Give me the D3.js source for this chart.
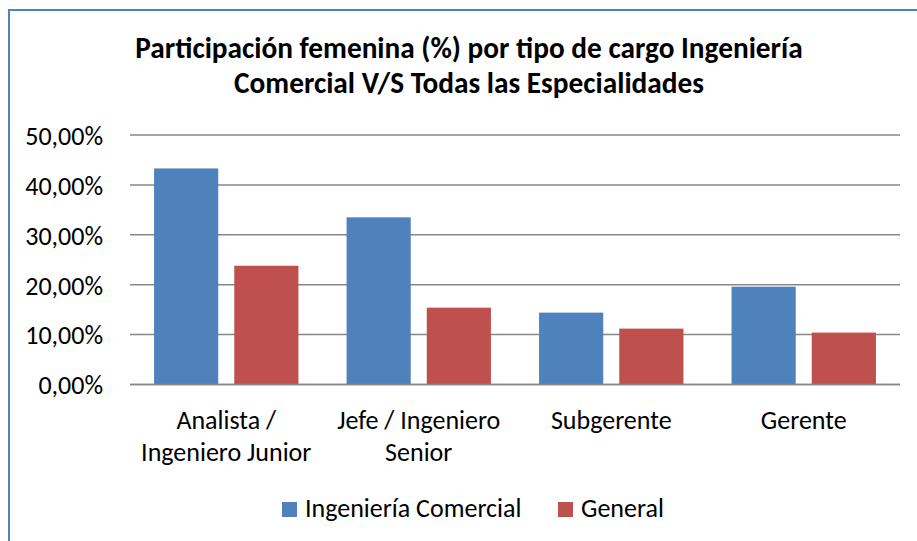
<!DOCTYPE html>
<html>
<head>
<meta charset="utf-8">
<script src="https://cdn.jsdelivr.net/npm/d3@7"></script>
<style>
  body { margin: 0; background: #fff; }
  svg { display: block; font-family: Carlito, Calibri, Lato, sans-serif; }
</style>
</head>
<body>
<div id="chart"></div>
<script>
// data
var categories = ['Analista / Ingeniero Junior', 'Jefe / Ingeniero Senior', 'Subgerente', 'Gerente']
var categoryLines = [['Analista /', 'Ingeniero Junior'], ['Jefe / Ingeniero', 'Senior'], ['Subgerente'], ['Gerente']]
var series = ['Ingeniería Comercial', 'General']
var ingComercial = [0.433, 0.335, 0.144, 0.196]
var general = [0.238, 0.154, 0.112, 0.104]
var yTicks = [0, 0.1, 0.2, 0.3, 0.4, 0.5]
var colors = ['#4F81BD', '#C0504D']
var titleLines = ['Participación femenina (%) por tipo de cargo Ingeniería', 'Comercial V/S Todas las Especialidades']

var width = 917, height = 541
var values = [ingComercial, general]

var svg = d3.select('#chart')
    .append('svg')
    .attr('width', width)
    .attr('height', height)

// chart frame (runs past right and bottom of the picture)
svg.append('rect')
    .attr('x', 9)
    .attr('y', 10)
    .attr('width', 1000)
    .attr('height', 1000)
    .attr('fill', '#fff')
    .attr('stroke', '#4F81BD')
    .attr('stroke-width', 2)

var locale = d3.formatLocale({decimal: ',', thousands: '.', grouping: [3], currency: ['$', '']})
var fmt = locale.format('.2%')

var x0 = d3.scaleBand()
    .domain(categories)
    .range([130, 900])
    .paddingInner(0.25)
    .paddingOuter(0.125)

var x1 = d3.scaleBand()
    .domain(series)
    .range([0, x0.bandwidth()])
    .paddingInner(0.2)

var y = d3.scaleLinear()
    .domain([0, 0.5])
    .range([384.5, 135])

// gridlines
svg.append('g')
    .selectAll('line')
    .data(yTicks)
    .enter()
    .append('line')
    .attr('x1', 130)
    .attr('x2', 900)
    .attr('y1', function(d) { return y(d) })
    .attr('y2', function(d) { return y(d) })
    .attr('stroke', '#878787')
    .attr('stroke-width', 1.5)

// y axis labels
var yAxis = svg.append('g')
    .attr('transform', 'translate(130,0)')
    .call(d3.axisLeft(y).tickValues(yTicks).tickFormat(fmt).tickSize(0).tickPadding(27))
yAxis.select('.domain').remove()
yAxis.selectAll('text')
    .attr('font-family', 'Carlito, Calibri, Lato, sans-serif')
    .attr('font-size', 26)
    .attr('fill', '#000')
    .attr('dy', '0.36em')

// bars
var groups = svg.append('g')
    .selectAll('g')
    .data(categories)
    .enter()
    .append('g')
    .attr('transform', function(d) { return 'translate(' + x0(d) + ',0)' })

groups.selectAll('rect')
    .data(function(d, i) {
        return series.map(function(s, j) { return {s: s, v: values[j][i], j: j} })
    })
    .enter()
    .append('rect')
    .attr('x', function(d) { return x1(d.s) })
    .attr('y', function(d) { return y(d.v) })
    .attr('width', x1.bandwidth())
    .attr('height', function(d) { return y(0) - y(d.v) })
    .attr('fill', function(d) { return colors[d.j] })

// baseline over bars
svg.append('line')
    .attr('x1', 130)
    .attr('x2', 900)
    .attr('y1', y(0))
    .attr('y2', y(0))
    .attr('stroke', '#878787')
    .attr('stroke-width', 1.5)

// category labels
var catText = svg.append('g')
    .selectAll('text')
    .data(categories)
    .enter()
    .append('text')
    .attr('text-anchor', 'middle')
    .attr('font-size', 26)
    .attr('fill', '#000')

catText.selectAll('tspan')
    .data(function(d, i) { return categoryLines[i] })
    .enter()
    .append('tspan')
    .attr('x', function() { var c = d3.select(this.parentNode).datum(); return x0(c) + x0.bandwidth() / 2 })
    .attr('y', function(d, i) { return 429 + i * 32 })
    .text(function(d) { return d })

// title
svg.append('g')
    .selectAll('text')
    .data(titleLines)
    .enter()
    .append('text')
    .attr('x', 469)
    .attr('y', function(d, i) { return 58 + i * 35 })
    .attr('text-anchor', 'middle')
    .attr('font-size', 29.3)
    .attr('font-weight', 'bold')
    .attr('fill', '#000')
    .text(function(d) { return d })

// legend
var legendX = [282, 558]
var legend = svg.append('g')
    .selectAll('g')
    .data(series)
    .enter()
    .append('g')
    .attr('transform', function(d, i) { return 'translate(' + legendX[i] + ',502)' })

legend.append('rect')
    .attr('width', 15)
    .attr('height', 15)
    .attr('fill', function(d, i) { return colors[i] })

legend.append('text')
    .attr('x', 23)
    .attr('y', 15)
    .attr('font-size', 26)
    .attr('fill', '#000')
    .text(function(d) { return d })
</script>
</body>
</html>
